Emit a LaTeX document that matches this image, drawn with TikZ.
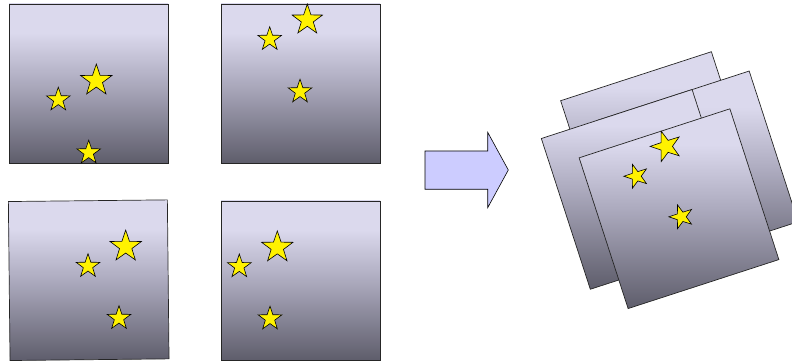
\documentclass[tikz,border=0pt]{standalone}
\usetikzlibrary{shapes.geometric}
\definecolor{sheettop}{RGB}{219,217,237}
\definecolor{sheetmid}{RGB}{172,170,190}
\definecolor{sheetbot}{RGB}{94,93,107}
\definecolor{arrowfill}{RGB}{204,204,255}
% light upper band, then a steady fall to dark grey
\pgfdeclareverticalshading{sheetshade}{100bp}{color(0bp)=(sheetbot); color(25bp)=(sheetbot);
  color(50bp)=(sheetmid); color(66bp)=(sheettop); color(100bp)=(sheettop)}
\tikzset{
  sheet/.style={draw=black!85, line width=0.7pt, inner sep=0pt,
    minimum size=#1, shading=sheetshade},
  sheet/.default=159pt,
  yellowstar/.style={star, star points=5, star point ratio=2.55, inner sep=0pt,
    minimum size=#1, fill=yellow, draw=black, line width=0.6pt},
}
\begin{document}
\begin{tikzpicture}[x=1pt,y=1pt]
\useasboundingbox (0,0) rectangle (792,-363);

% four separate frames
\node[sheet] (f1) at (88.5,-83.5) {};
\node[sheet] (f2) at (300.5,-83.5) {};
\node[sheet, rotate=0.6] (f3) at (88.7,-280.2) {};
\node[sheet] (f4) at (300.5,-280.5) {};

% stars of frame 1
\node[yellowstar=33pt] (f1a) at (96.3,-80.6) {};
\node[yellowstar=25pt] (f1b) at (58.3,-99.7) {};
\node[yellowstar=25pt] (f1c) at (88.7,-152.7) {};
% stars of frame 2
\node[yellowstar=32pt] (f2a) at (307.3,-20) {};
\node[yellowstar=25pt] (f2b) at (269.7,-39.2) {};
\node[yellowstar=25pt] (f2c) at (300,-91.7) {};
% stars of frame 3
\node[yellowstar=33pt] (f3a) at (125.7,-246.6) {};
\node[yellowstar=25pt] (f3b) at (88,-266.2) {};
\node[yellowstar=25pt] (f3c) at (119,-318.2) {};
% stars of frame 4
\node[yellowstar=33pt] (f4a) at (277.3,-247.4) {};
\node[yellowstar=25pt] (f4b) at (239.3,-266.5) {};
\node[yellowstar=25pt] (f4c) at (270,-318.7) {};

% block arrow
\draw[fill=arrowfill, draw=black, line width=0.6pt, line join=miter]
  (425,-151) -- (487.7,-151) -- (487.7,-132.3) -- (508.3,-170)
  -- (487.7,-207.7) -- (487.7,-189.3) -- (425,-189.3) -- cycle;

% stacked frames, back to front
\node[sheet=158.5pt, rotate=18] (sa) at (660.5,-151.6) {};
\node[sheet=158.5pt, rotate=18] (sd) at (698.3,-170.9) {};
\node[sheet=158.5pt, rotate=18] (sb) at (641.2,-189.4) {};
\node[sheet=158.5pt, rotate=18] (sc) at (679,-208.7) {};

% stars on the front frame
\begin{scope}[shift={(sc.center)}, rotate=18, transform shape]
  \node[yellowstar=32pt] (sca) at (7.05,63.25) {};
  \node[yellowstar=25pt] (scb) at (-30.55,44.05) {};
  \node[yellowstar=25pt] (scc) at (-0.25,-8.45) {};
\end{scope}
\end{tikzpicture}
\end{document}
